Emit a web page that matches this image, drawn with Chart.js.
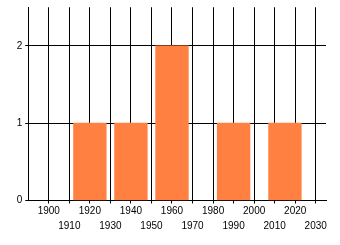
<!DOCTYPE html>
<html>
<head>
<meta charset="utf-8">
<script src="https://cdn.jsdelivr.net/npm/chart.js@4/dist/chart.umd.min.js"></script>
<style>
  html, body { margin: 0; padding: 0; background: #fff; }
  #c { display: block; }
</style>
</head>
<body>
<canvas id="c" width="340" height="245"></canvas>
<script>
// Data
const binCenters = [1920, 1940, 1960, 1990, 2015];
const counts = [1, 1, 2, 1, 1];
const xMin = 1890, xMax = 2035, xStep = 10;
const yMin = 0, yMax = 2.5, yStep = 1;

const points = binCenters.map((x, i) => ({ x: x, y: counts[i] }));
const FAMILY = "'Liberation Sans', Arial, sans-serif";

new Chart(document.getElementById('c'), {
  type: 'bar',
  data: { datasets: [{ data: points, backgroundColor: '#ff8040', borderWidth: 0, barThickness: 32.7 }] },
  options: {
    responsive: false, animation: false, devicePixelRatio: 1,
    layout: { padding: { left: 13.7, right: 14, top: 5, bottom: 11.5 } },
    plugins: { legend: { display: false }, tooltip: { enabled: false } },
    scales: {
      x: {
        type: 'linear', min: xMin, max: xMax, offset: false,
        border: { color: '#000', width: 1 },
        grid: {
          offset: false,
          color: ctx => (ctx.tick && ctx.tick.value === xMin) ? 'rgba(0,0,0,0)' : '#000',
          lineWidth: 1, tickLength: 3
        },
        ticks: {
          stepSize: xStep, includeBounds: false, autoSkip: false,
          maxRotation: 0, minRotation: 0, padding: 0, color: '#000',
          font: { family: FAMILY, size: 10, lineHeight: 1.5 },
          callback: function (v) {
            if (v === xMin) return '';
            const s = String(v);
            return (v % 20 === 0) ? s : ['', s];
          }
        }
      },
      y: {
        min: yMin, max: yMax,
        border: { color: '#000', width: 1 },
        grid: { color: '#000', lineWidth: 1, tickLength: 3 },
        ticks: {
          stepSize: yStep, includeBounds: false, padding: 3, color: '#000',
          font: { family: FAMILY, size: 10, lineHeight: 0.85 }
        }
      }
    }
  }
});
</script>
</body>
</html>
